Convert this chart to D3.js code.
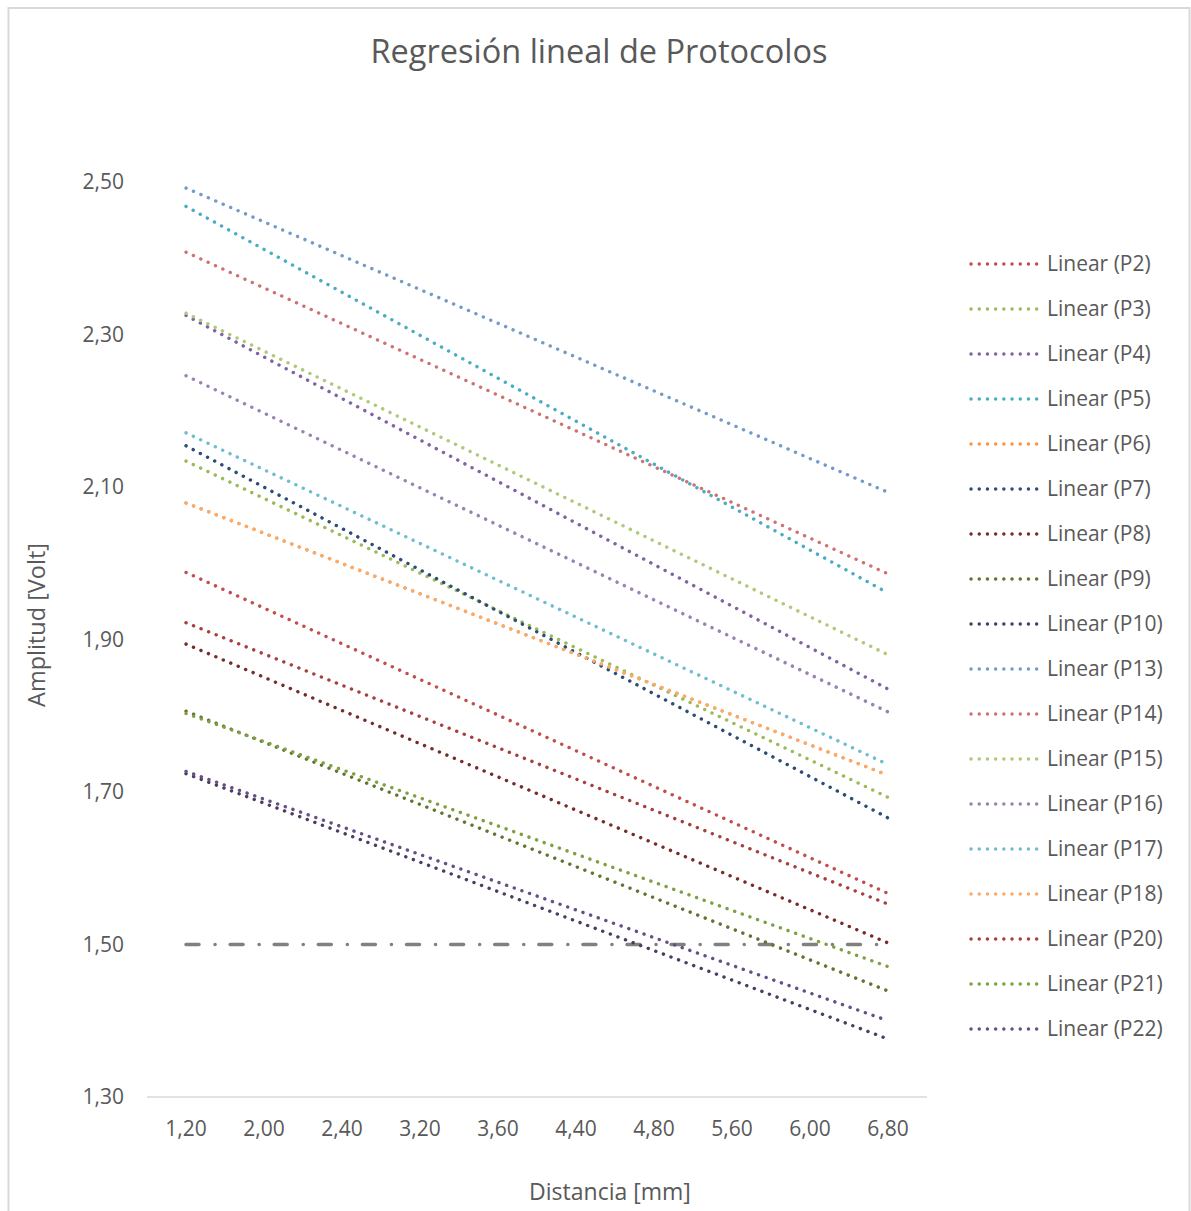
<!DOCTYPE html>
<html>
<head>
<meta charset="utf-8">
<script src="https://cdn.jsdelivr.net/npm/d3@7"></script>
<style>
  body { margin: 0; background: #fff; }
  text { font-family: "Open Sans", sans-serif; fill: #595959; }
</style>
</head>
<body>
<div id="chart"></div>
<script>
const categories = ["1,20", "2,00", "2,40", "3,20", "3,60", "4,40", "4,80", "5,60", "6,00", "6,80"];
const yTicks = [1.3, 1.5, 1.7, 1.9, 2.1, 2.3, 2.5];

// trendlines: value at first and last category
const seriesNames = ["P2", "P3", "P4", "P5", "P6", "P7", "P8", "P9", "P10",
  "P13", "P14", "P15", "P16", "P17", "P18", "P20", "P21", "P22"];
const startValues = [1.988, 2.134, 2.325, 2.468, 2.079, 2.154, 1.894, 1.806, 1.724,
  2.492, 2.408, 2.328, 2.246, 2.171, 2.079, 1.922, 1.803, 1.727];
const endValues = [1.567, 1.693, 1.835, 1.961, 1.722, 1.666, 1.502, 1.439, 1.376,
  2.093, 1.986, 1.880, 1.805, 1.736, 1.722, 1.553, 1.471, 1.400];
const seriesColors = ["#c0504d", "#9bbb59", "#8064a2", "#4bacc6", "#f79646", "#2c4d75",
  "#772c2a", "#5f7530", "#4d3b62", "#729aca", "#cd7371", "#afc97a", "#9983b5",
  "#6fbdd1", "#f9ab6b", "#a5403d", "#7ea040", "#664f86"];

// reference line
const limitValues = [1.5, 1.5, 1.5, 1.5, 1.5, 1.5, 1.5, 1.5, 1.5, 1.5];

const W = 1191, H = 1211;

const svg = d3.select("#chart")
  .append("svg")
  .attr("width", W)
  .attr("height", H);

// outer border
svg.append("rect")
  .attr("x", 8.5)
  .attr("y", 8)
  .attr("width", 1181)
  .attr("height", 1230)
  .attr("fill", "#fff")
  .attr("stroke", "#d9d9d9")
  .attr("stroke-width", 2);

const x = d3.scaleBand()
  .domain(categories)
  .range([147, 927])
  .padding(0);

const xc = c => x(c) + x.bandwidth() / 2;

const y = d3.scaleLinear()
  .domain([1.3, 2.5])
  .range([1097, 182]);

// title
svg.append("text")
  .attr("x", 599)
  .attr("y", 52)
  .attr("dy", "0.35em")
  .attr("text-anchor", "middle")
  .attr("font-size", "32.5px")
  .text("Regresión lineal de Protocolos");

// x axis line
svg.append("line")
  .attr("x1", x.range()[0])
  .attr("x2", x.range()[1])
  .attr("y1", y(1.3))
  .attr("y2", y(1.3))
  .attr("stroke", "#d9d9d9")
  .attr("stroke-width", 1.5);

// y tick labels
svg.append("g")
  .selectAll("text")
  .data(yTicks)
  .join("text")
  .attr("x", 124)
  .attr("y", d => y(d))
  .attr("dy", "0.35em")
  .attr("text-anchor", "end")
  .attr("font-size", "21px")
  .text(d => d3.format(".2f")(d).replace(".", ","));

// x tick labels
svg.append("g")
  .selectAll("text")
  .data(categories)
  .join("text")
  .attr("x", d => xc(d))
  .attr("y", 1129)
  .attr("dy", "0.35em")
  .attr("text-anchor", "middle")
  .attr("font-size", "21px")
  .text(d => d);

// axis titles
svg.append("text")
  .attr("transform", "translate(37,625) rotate(-90)")
  .attr("dy", "0.35em")
  .attr("text-anchor", "middle")
  .attr("font-size", "23.5px")
  .text("Amplitud [Volt]");

svg.append("text")
  .attr("x", 610)
  .attr("y", 1192)
  .attr("dy", "0.35em")
  .attr("text-anchor", "middle")
  .attr("font-size", "23px")
  .text("Distancia [mm]");

// limit line 1,50
const line = d3.line()
  .x(d => xc(d.cat))
  .y(d => y(d.value));

svg.append("path")
  .datum(categories.map((c, i) => ({ cat: c, value: limitValues[i] })))
  .attr("fill", "none")
  .attr("stroke", "#808080")
  .attr("stroke-width", 3.5)
  .attr("stroke-linecap", "round")
  .attr("stroke-dasharray", "13,16,0.1,15")
  .attr("d", line);

// trendlines
const first = categories[0], last = categories[categories.length - 1];
seriesNames.forEach((name, i) => {
  svg.append("path")
    .datum([{ cat: first, value: startValues[i] }, { cat: last, value: endValues[i] }])
    .attr("fill", "none")
    .attr("stroke", seriesColors[i])
    .attr("stroke-width", 3.4)
    .attr("stroke-linecap", "round")
    .attr("stroke-dasharray", "0.1,8")
    .attr("d", line);
});

// legend
const legend = svg.append("g")
  .attr("transform", "translate(970, 264)");

seriesNames.forEach((name, i) => {
  const g = legend.append("g")
    .attr("transform", `translate(0, ${i * 45})`);

  g.append("line")
    .attr("x1", 1)
    .attr("x2", 71)
    .attr("stroke", seriesColors[i])
    .attr("stroke-width", 3.4)
    .attr("stroke-linecap", "round")
    .attr("stroke-dasharray", "0.1,8.1");

  g.append("text")
    .attr("x", 77)
    .attr("dy", "0.35em")
    .attr("font-size", "21px")
    .text(`Linear (${name})`);
});
</script>
</body>
</html>
